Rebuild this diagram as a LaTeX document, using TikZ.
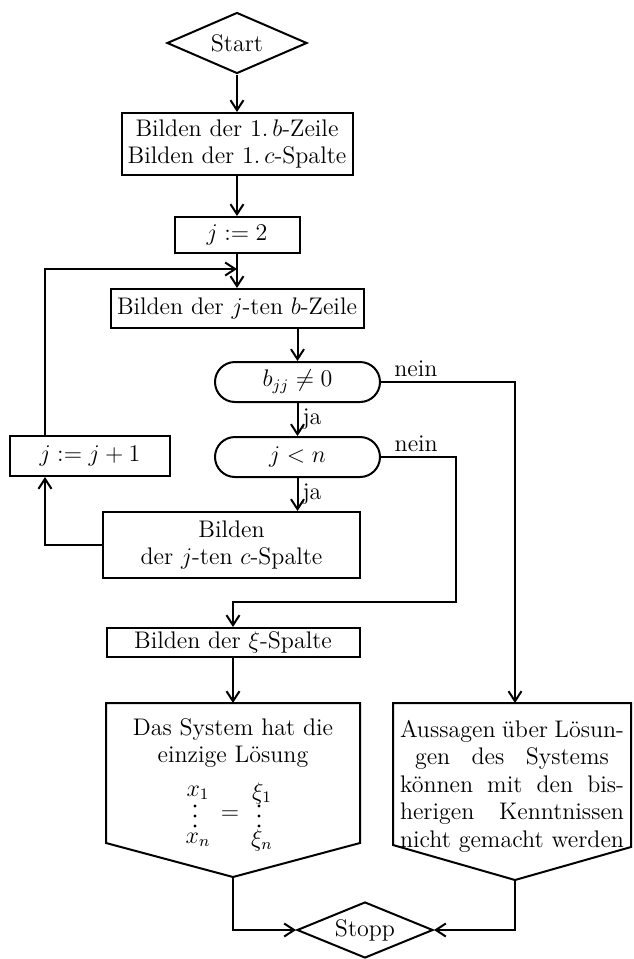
\documentclass[tikz,border=0pt]{standalone}
\usetikzlibrary{shapes.geometric,shapes.misc,arrows.meta}
\begin{document}
\begin{tikzpicture}[x=0.5pt,y=-0.5pt,
  line width=1pt,
  font=\fontsize{12}{13.5}\selectfont,
  arr/.style={-{Straight Barb[length=5pt,width=6.5pt]}},
  terminal/.style={diamond, draw, inner sep=0pt, aspect=2.3},
  proc/.style={rectangle, draw, inner sep=0pt, align=center},
  decide/.style={rounded rectangle, draw, inner sep=0pt, minimum width=82.5pt, minimum height=20pt},
  lbl/.style={inner sep=2pt},
  mth/.style={inner sep=0pt},
  vdot/.style={fill, line width=0pt},
]
\useasboundingbox (0,0) rectangle (633,959);

% nodes
\node[terminal, minimum width=70pt, minimum height=30.5pt] (start) at (237,43) {Start};
\node[proc, minimum width=115.5pt, minimum height=31pt] (b1) at (237,144)
  {Bilden der 1.\,$b$-Zeile\\Bilden der 1.\,$c$-Spalte};
\node[proc, minimum width=62.5pt, minimum height=18pt] (b2) at (237,235) {$j:=2$};
\node[proc, minimum width=126.5pt, minimum height=19.5pt] (b3) at (237,308.5) {Bilden der $j$-ten $b$-Zeile};
\node[decide] (d1) at (297.5,382) {$b_{jj}\neq 0$};
\node[decide] (d2) at (297.5,457) {$j<n$};
\node[proc, minimum width=128.5pt, minimum height=33pt] (bc) at (231.5,545)
  {Bilden\\der $j$-ten $c$-Spalte};
\node[proc, minimum width=80pt, minimum height=20pt] (binc) at (90,456) {$j:=j+1$};
\node[proc, minimum width=126.5pt, minimum height=14.5pt] (bxi) at (233,642.5) {Bilden der $\xi$-Spalte};
\node[terminal, minimum width=68pt, minimum height=28pt] (stop) at (365,930) {Stopp};

% pentagons
\draw (106,703) -- (360,703) -- (360,843) -- (233,877) -- (106,843) -- cycle;
\coordinate (pLtop) at (233,703);
\coordinate (pLt) at (233,877);
\draw (393,703) -- (631,703) -- (631,847) -- (515,880) -- (393,845) -- cycle;
\coordinate (pRtop) at (515,703);
\coordinate (pRt) at (515,880);

\node[align=center, inner sep=0pt] (tLa) at (233,743) {Das System hat die\\einzige Lösung};
\node[mth] (x1) at (198,793) {$x_1$};
\node[mth] (xn) at (198,840) {$x_n$};
\node[mth] (xi1) at (262,793) {$\xi_1$};
\node[mth] (xin) at (262,840) {$\xi_n$};
\node[mth] (eq) at (230,815) {$=$};
\foreach \yy in {806,816,826} {
  \fill[vdot] (195,\yy) circle (1.6);
  \fill[vdot] (259,\yy) circle (1.6);
}
\node[align=left, inner sep=0pt, font=\fontsize{12}{13.75}\selectfont] (tR) at (512,786)
  {\makebox[112pt][s]{Aussagen über Lösun-}\\
   \makebox[112pt]{\makebox[97pt][s]{gen des Systems}}\\
   \makebox[112pt][s]{können mit den bis-}\\
   \makebox[112pt][s]{herigen Kenntnissen}\\
   \makebox[112pt][s]{nicht gemacht werden}};

% connectors
\coordinate (jn) at (237,269);
\coordinate (loopx) at (45,456);
\coordinate (n2) at (456,602);
\draw[arr] (start.south) -- (b1.north);
\draw[arr] (b1.south) -- (b2.north);
\draw[arr] (b2.south) -- (b3.north);
\draw[arr] (loopx |- binc.north) |- (jn);
\draw[arr] (b3.south -| d1.north) -- (d1.north);
\draw[arr] (d1.south) -- node[right, lbl] {ja} (d2.north);
\draw[arr] (d2.south) -- node[right, lbl] {ja} (d2.south |- bc.north);
\draw[arr] (bc.west) -| (loopx |- binc.south);
\draw[arr] (d1.east) -| node[pos=0.13, above, lbl] {nein} (pRtop);
\draw[arr] (d2.east) -| node[pos=0.235, above, lbl] {nein} (n2) -| (bxi.north);
\draw[arr] (bxi.south) -- (pLtop);
\draw[arr] (pLt) |- (stop.west);
\draw[arr] (pRt) |- (stop.east);
\end{tikzpicture}
\end{document}
